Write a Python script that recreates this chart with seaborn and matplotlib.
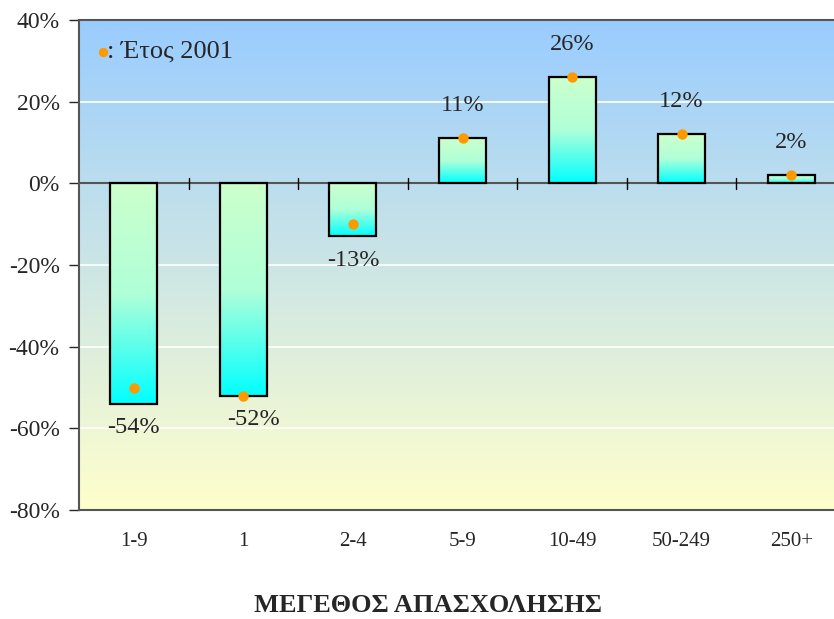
import numpy as np
import matplotlib
matplotlib.use('Agg')
import matplotlib.pyplot as plt
from matplotlib.colors import LinearSegmentedColormap
import seaborn as sns

# data
categories = ['1-9', '1', '2-4', '5-9', '10-49', '50-249', '250+']
change_pct = [-54, -52, -13, 11, 26, 12, 2]
year_2001 = [-50, -52, -10, 11, 26, 12, 2]
y_ticks = [40, 20, 0, -20, -40, -60, -80]

sns.set_style('white')
plt.rcParams['font.family'] = ['Liberation Serif', 'DejaVu Serif']

fig = plt.figure(figsize=(8.34, 6.19), dpi=100)
# plot area runs a little past the right edge of the image, as in the original
ax = fig.add_axes([79 / 834, 1 - 510 / 619, 767 / 834, 490 / 619])

sns.barplot(x=categories, y=change_pct, color='#CCFFCC', width=0.43,
            edgecolor='black', linewidth=1.6, ax=ax, zorder=3)
ax.set_ylim(-80, 40)
ax.set_xlim(-0.5, 6.5)

# background gradient: blue at top, pale yellow at bottom
bg = LinearSegmentedColormap.from_list('bg', ['#99CCFF', '#FFFFCC'])
ax.imshow(np.linspace(0, 1, 256).reshape(-1, 1), cmap=bg, aspect='auto',
          extent=[-0.5, 6.5, -80, 40], origin='upper', zorder=0)

# bar gradient: pale green on top, cyan at the bottom
bar_cm = LinearSegmentedColormap.from_list('bar', ['#CCFFCC', '#B0FFD8', '#00FFFF'])
for p in ax.patches:
    x0, y0 = p.get_x(), p.get_y()
    w, h = p.get_width(), p.get_height()
    lo, hi = min(y0, y0 + h), max(y0, y0 + h)
    im = ax.imshow(np.linspace(0, 1, 256).reshape(-1, 1), cmap=bar_cm,
                   aspect='auto', extent=[x0, x0 + w, lo, hi],
                   origin='upper', zorder=2)
    im.set_clip_path(p)
    p.set_facecolor('none')

# white grid lines and the zero line
for t in y_ticks:
    if t not in (40, -80, 0):
        ax.axhline(t, color='white', lw=1.2, zorder=1)
ax.axhline(0, color='#555555', lw=1.5, zorder=2.5)
for b in np.arange(0.5, 6.5, 1):
    ax.plot([b, b], [-1.4, 1.4], color='black', lw=1, zorder=2.6)

# year 2001 points
sns.stripplot(x=categories, y=year_2001, jitter=False, color='#FF9900',
              size=7.5, linewidth=0, ax=ax, zorder=5)

# value labels ("-52%" sits a bit to the right, clear of the dot)
for i, v in enumerate(change_pct):
    off = 33 if v > 0 else -24
    dx = 10 if i == 1 else 0
    ax.annotate(f'{v}%', (i, v), xytext=(dx, off), textcoords='offset pixels',
                ha='center', va='center', fontsize=17.5, zorder=6)

# legend-like note
ax.scatter([0.031], [0.935], s=32, color='#FF9900', transform=ax.transAxes,
           zorder=6, clip_on=False)
ax.text(0.037, 0.935, ': Έτος 2001', transform=ax.transAxes, fontsize=19,
        va='center', ha='left', zorder=6)

ax.set_yticks(y_ticks)
ax.set_yticklabels([f'{t}%' for t in y_ticks], fontsize=17)
ax.tick_params(axis='y', direction='out', length=7, width=1, pad=7, left=True)
ax.tick_params(axis='x', length=0, pad=16, labelsize=15)
ax.set_xlabel('')
ax.set_ylabel('')
fig.text(428 / 834, 1 - 606 / 619, 'ΜΕΓΕΘΟΣ ΑΠΑΣΧΟΛΗΣΗΣ', fontsize=19,
         fontweight='bold', ha='center', va='center')

for s in ['left', 'bottom', 'top']:
    ax.spines[s].set_color('#555555')
    ax.spines[s].set_linewidth(1.5)
ax.spines['right'].set_visible(False)

fig.savefig('out.png', dpi=100)
